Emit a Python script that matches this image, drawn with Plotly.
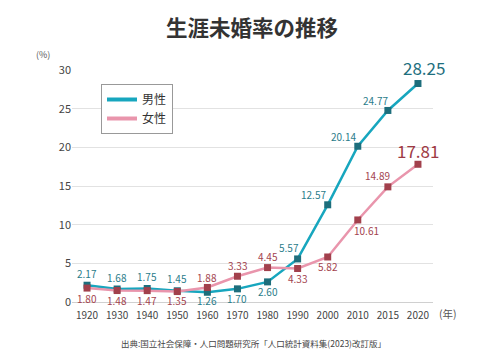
import plotly.graph_objects as go

years = ["1920", "1930", "1940", "1950", "1960", "1970", "1980", "1990", "2000", "2010", "2015", "2020"]
male = [2.17, 1.68, 1.75, 1.45, 1.26, 1.70, 2.60, 5.57, 12.57, 20.14, 24.77, 28.25]
female = [1.80, 1.48, 1.47, 1.35, 1.88, 3.33, 4.45, 4.33, 5.82, 10.61, 14.89, 17.81]
y_ticks = [0, 5, 10, 15, 20, 25, 30]

# label offsets (pixels) - styling only
male_off = [(0, 12), (0, 12), (0, 12), (0, 12), (0, -8), (0, -10), (0, -10),
            (-9, 11), (-14, 10), (-14, 10), (-12, 10), (6, 16)]
female_off = [(0, -10), (0, -10), (0, -10), (0, -9), (0, 10), (0, 11), (0, 11),
              (0, -10), (0, -10), (9, -11), (-10, 11), (0, 14)]

FONT = "Noto Sans CJK JP"
male_line = "#17a6be"
male_mark = "#1d6e7c"
male_text = "#2b7c8a"
male_big = "#1e6f7e"
fem_line = "#e995ac"
fem_mark = "#a2404c"
fem_text = "#a3434e"
fem_big = "#9e3a44"

# page body has an 8px margin; figure is sized/offset to compensate
W, H = 472, 348
PL, PR, PT, PB = 64, 425, 62, 294  # plot area in figure pixels

fig = go.Figure()
fig.add_trace(go.Scatter(x=years, y=male, mode="lines+markers", showlegend=False,
                         line=dict(color=male_line, width=2.5),
                         marker=dict(symbol="square", size=7, color=male_mark)))
fig.add_trace(go.Scatter(x=years, y=female, mode="lines+markers", showlegend=False,
                         line=dict(color=fem_line, width=2.5),
                         marker=dict(symbol="square", size=7, color=fem_mark)))
fig.add_trace(go.Scatter(x=[None], y=[None], mode="lines", name="男性",
                         line=dict(color=male_line, width=4)))
fig.add_trace(go.Scatter(x=[None], y=[None], mode="lines", name="女性",
                         line=dict(color=fem_line, width=4)))

anns = []
n = len(years)
for i, v in enumerate(male):
    big = i == n - 1
    anns.append(dict(x=i, y=v, xref="x", yref="y", text=f"{v:.2f}", showarrow=False,
                     xshift=male_off[i][0], yshift=male_off[i][1],
                     font=dict(family=FONT, size=17 if big else 10,
                               color=male_big if big else male_text),
                     xanchor="center", yanchor="middle"))
for i, v in enumerate(female):
    big = i == n - 1
    anns.append(dict(x=i, y=v, xref="x", yref="y", text=f"{v:.2f}", showarrow=False,
                     xshift=female_off[i][0], yshift=female_off[i][1],
                     font=dict(family=FONT, size=17 if big else 10,
                               color=fem_big if big else fem_text),
                     xanchor="center", yanchor="middle"))

pw, ph = PR - PL, PB - PT


def px(x):
    return (x - 8 - PL) / pw


def py(y):
    return (PB - (y - 8)) / ph


anns.append(dict(x=px(43), y=py(55), xref="paper", yref="paper", text="(%)",
                 showarrow=False, xanchor="center", yanchor="middle",
                 font=dict(family=FONT, size=9, color="#555")))
anns.append(dict(x=px(437), y=py(313), xref="paper", yref="paper", text="(年)",
                 showarrow=False, xanchor="left", yanchor="middle",
                 font=dict(family=FONT, size=10.5, color="#555")))
anns.append(dict(x=px(253), y=py(343), xref="paper", yref="paper",
                 text="出典:国立社会保障・人口問題研究所「人口統計資料集(2023)改訂版」",
                 showarrow=False, xanchor="center", yanchor="middle",
                 font=dict(family=FONT, size=8.5, color="#444")))

fig.update_layout(
    width=W, height=H,
    margin=dict(l=PL, r=W - PR, t=PT, b=H - PB, autoexpand=False),
    paper_bgcolor="white", plot_bgcolor="white",
    font=dict(family=FONT, color="#444"),
    title=dict(text="<b>生涯未婚率の推移</b>", x=(252 - 8) / W, xref="container", xanchor="center",
               y=1 - (28 - 8) / H, yref="container", yanchor="middle",
               font=dict(family=FONT, size=21.5, color="#333")),
    legend=dict(x=px(101), y=py(84), xanchor="left", yanchor="top",
                bgcolor="white", bordercolor="#999", borderwidth=1,
                font=dict(family=FONT, size=12, color="#333"),
                itemwidth=30, tracegroupgap=6),
    annotations=anns,
)
fig.update_xaxes(type="category", categoryorder="array", categoryarray=years,
                 range=[-0.5, n - 0.5], showgrid=False, showline=True, linecolor="#d0d0d0",
                 ticks="", ticklabelstandoff=4,
                 tickfont=dict(family=FONT, size=10, color="#444"))
fig.update_yaxes(range=[0, 30], tickvals=y_ticks, showgrid=True, gridcolor="#e2e2e2",
                 zeroline=False, showline=False, ticks="",
                 tickfont=dict(family=FONT, size=11, color="#444"))

fig.write_html("out.html")
